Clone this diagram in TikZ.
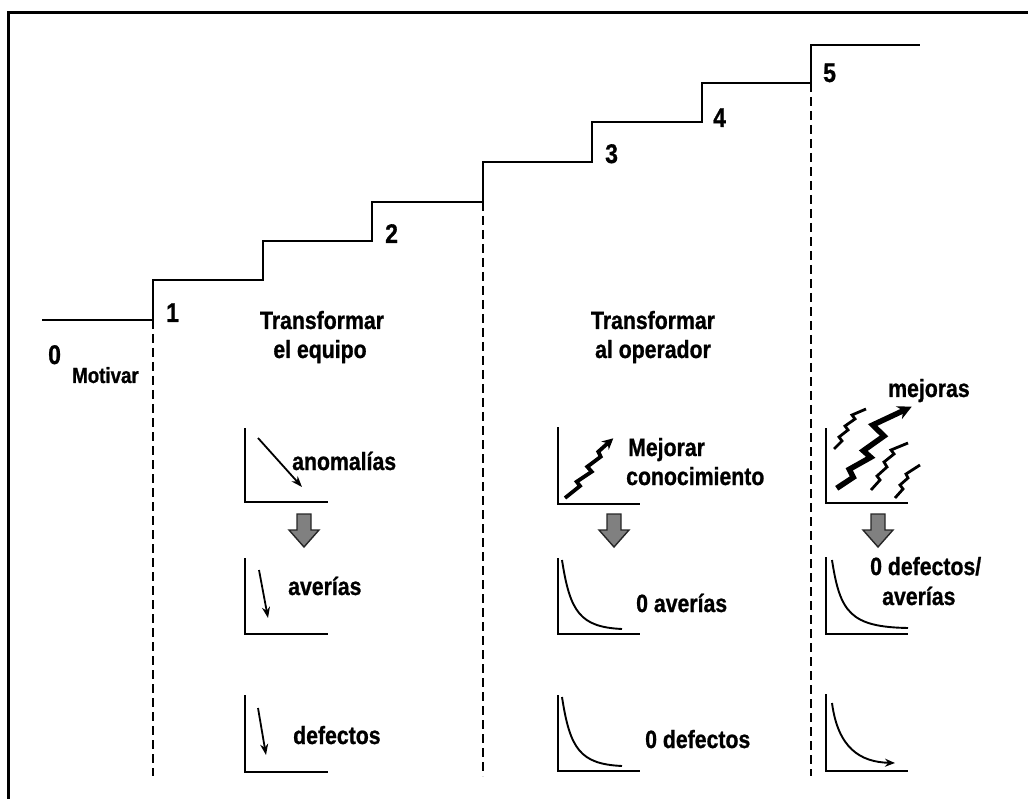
\documentclass[tikz,border=0pt]{standalone}
\usepackage{fontspec}
\newfontfamily\lblfont{Liberation Sans}[FakeStretch=0.85, BoldFeatures={FakeBold=0.9}]
\usetikzlibrary{arrows.meta,decorations.pathmorphing}
\begin{document}
\begin{tikzpicture}[x=1pt,y=-1pt,
  frame/.style={line width=3pt},
  stair/.style={line width=2.8pt, line join=miter},
  guide/.style={line width=1.9pt, dash pattern=on 9pt off 5pt},
  axis/.style={line width=2.6pt},
  trend/.style={line width=1.8pt, -{Stealth[length=11pt,width=8pt]}},
  decay/.style={line width=1.9pt},
  bolt/.style={line width=3.8pt, line join=miter, -{Stealth[length=11pt,width=11pt]}},
  bigbolt/.style={line width=5.5pt, line join=miter, -{Stealth[length=14pt,width=14pt]}},
  spark/.style={line width=2.8pt, line join=miter},
  lbl/.style={font=\lblfont\bfseries\fontsize{25}{27}\selectfont,
    inner sep=0pt, anchor=base west},
  lblc/.style={lbl, anchor=base},
  small/.style={lbl, font=\lblfont\bfseries\fontsize{22}{24}\selectfont},
  num/.style={lbl, font=\lblfont\bfseries\fontsize{27}{29}\selectfont},
  downarr/.pic={
    \filldraw[fill=black!50, draw=black!85, line width=1.4pt, line join=miter]
      (-7,0) -- (7,0) -- (7,16) -- (15,16) -- (0,33) -- (-15,16) -- (-7,16) -- cycle;}
]
\useasboundingbox (0,0) rectangle (1028,799);

% frame (top and left edges)
\draw[frame] (8,799) -- (8,13) -- (1028,13);

% staircase
\coordinate (s0) at (42,320);
\coordinate (s1) at (153,320);
\coordinate (s3) at (483,202);
\coordinate (s5) at (811,83);
\draw[stair] (s0) -- (s1) |- (263,280) |- (372,241) |- (s3) |- (592,162)
  |- (702,122) |- (s5) |- (920,45);

% dashed phase separators
\coordinate (g1) at (153,776);
\coordinate (g3) at (483,776);
\coordinate (g5) at (811,776);
\draw[guide] (s1) -- (g1);
\draw[guide] (s3) -- (g3);
\draw[guide] (s5) -- (g5);

% step numbers
\node[num] (n0) at (48,364) {0};
\node[small] (mot) at (72,383) {Motivar};
\node[num] (n1) at (166,322) {1};
\node[num] (n2) at (385,243) {2};
\node[num] (n3) at (605,163) {3};
\node[num] (n4) at (713,127) {4};
\node[num] (n5) at (823,82) {5};

% phase titles
\node[lblc] (t1a) at (322,329) {Transformar};
\node[lblc] (t1b) at (320,358) {el equipo};
\node[lblc] (t2a) at (653,329) {Transformar};
\node[lblc] (t2b) at (653,358) {al operador};

% ---- column 1: equipment ----
\draw[axis] (245,428) |- (328,502);
\draw[trend] (258,438) -- (302,487);
\node[lbl] (c1a) at (292,470) {anomalías};
\pic at (304,514) {downarr};
\draw[axis] (245,558) |- (328,634);
\draw[trend] (259,570) -- (268,618);
\node[lbl] (c1b) at (288,595) {averías};
\draw[axis] (245,695) |- (328,772);
\draw[trend] (258,708) -- (266,755);
\node[lbl] (c1c) at (293,744) {defectos};

% ---- column 2: operator ----
\draw[axis] (558,427) |- (640,504);
\draw[bolt] (565,498) -- (580,486) -- (576.7,481.7) -- (591.7,471.7) -- (587.3,466.7)
  -- (600.7,456.7) -- (598.3,451.7) -- (613.3,438.3);
\node[lbl] (c2a) at (628,456) {Mejorar};
\node[lbl] (c2b) at (626,485) {conocimiento};
\pic at (614,514) {downarr};
\draw[axis] (558,558) |- (640,634);
\draw[decay] (562,560) .. controls (570,612) and (580,627) .. (622,629);
\node[lbl] (c2c) at (636,612) {0 averías};
\draw[axis] (558,695) |- (640,771);
\draw[decay] (562,697) .. controls (570,749) and (580,764) .. (622,766);
\node[lbl] (c2d) at (645,748) {0 defectos};

% ---- column 3: improvements ----
\draw[axis] (826,428) |- (908,503);
\draw[spark] (834,449) -- (842,441) -- (839,437) -- (848,430) -- (845,426)
  -- (855,419) -- (852,415) -- (866,409);
\draw[spark] (871,490) -- (880,480) -- (877,476) -- (887,467) -- (884,462)
  -- (894,454) -- (891,450) -- (908,443);
\draw[spark] (895,498) -- (903,489) -- (900,485) -- (908,478) -- (906,474)
  -- (920,465);
\draw[bigbolt] (836.7,488.3) -- (853.3,477.3) -- (849.3,469.3) -- (870.7,457.3)
  -- (863.3,450.7) -- (884,436) -- (872.7,425) -- (911.7,406.7);
\node[lbl] (c3a) at (888,397) {mejoras};
\pic at (878,514) {downarr};
\draw[axis] (826,557) |- (908,634);
\draw[decay] (832,560) .. controls (840,612) and (850,627) .. (908,628);
\node[lbl] (c3b) at (870,575) {0 defectos/};
\node[lbl] (c3c) at (882,605) {averías};
\draw[axis] (826,694) |- (908,771);
\draw[decay, -{Stealth[length=10pt,width=8pt]}] (832,703) .. controls (838,748) and (860,762) .. (895,763);
\end{tikzpicture}
\end{document}
